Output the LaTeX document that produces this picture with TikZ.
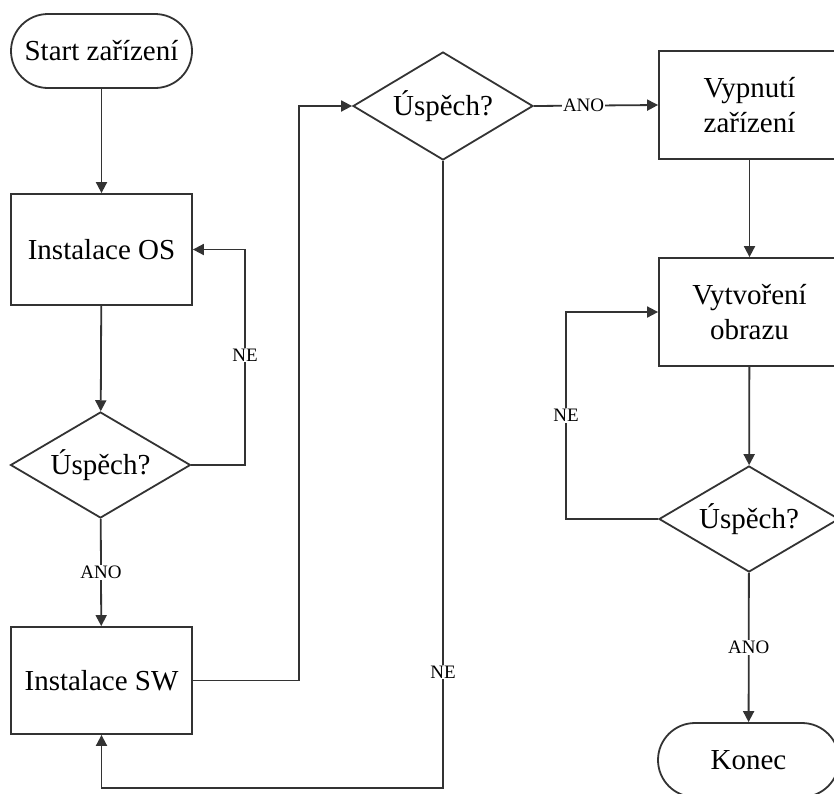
\documentclass[tikz,border=0pt]{standalone}
\usepackage{fontspec}
\setmainfont{Liberation Serif}
\usetikzlibrary{shapes.geometric,arrows.meta}
\begin{document}
\begin{tikzpicture}[x=1pt,y=-1pt,
  ln/.style={draw=black!80, line width=1.8pt},
  arr/.style={ln, -{Triangle[length=11pt,width=11pt]}},
  box/.style={ln, rectangle, minimum width=181pt, minimum height=108pt, inner sep=0pt, align=center, font=\fontsize{29}{35}\selectfont, text=black},
  term/.style={box, rounded corners=37pt, minimum height=74pt},
  dec/.style={ln, diamond, aspect=1.7, minimum width=180pt, minimum height=106pt, inner sep=0pt, font=\fontsize{29}{35}\selectfont, text=black},
  lab/.style={fill=white, inner sep=1pt, font=\fontsize{19}{19}\selectfont, text=black}]
\useasboundingbox (0,0) rectangle (834,793);
\clip (0,0) rectangle (834,793);
\node[term] (start) at (101.5,51) {Start zařízení};
\node[box, minimum height=111pt] (os) at (101.5,249.5) {Instalace OS};
\node[dec] (d1) at (100.5,465) {Úspěch?};
\node[box, minimum height=107pt] (sw) at (101.5,680.5) {Instalace SW};
\node[dec, minimum height=108pt] (d2) at (443,106) {Úspěch?};
\node[box] (vyp) at (749.5,105) {Vypnutí\\zařízení};
\node[box] (vyt) at (749.5,312) {Vytvoření\\obrazu};
\node[dec] (d3) at (749,519) {Úspěch?};
\node[term] (konec) at (748.5,760) {Konec};
\coordinate (c1) at (245,465);
\coordinate (c2) at (299,680.5);
\coordinate (c3) at (443,788);
\coordinate (c4) at (566,519);
\draw[arr] (start) -- (os);
\draw[arr] (os) -- (d1);
\draw[arr] (d1) -- node[lab] {ANO} (sw);
\draw[arr] (d1.east) -- (c1) |- node[lab, pos=0.255] {NE} (os.east);
\draw[arr] (sw.east) -- (c2) |- (d2.west);
\draw[arr] (d2.south) -- node[lab, pos=0.815] {NE} (c3) -| (sw.south);
\draw[arr] (d2.east) -- node[lab, pos=0.4] {ANO} (vyp.west);
\draw[arr] (vyp) -- (vyt);
\draw[arr] (vyt) -- (d3);
\draw[arr] (d3.west) -- (c4) |- node[lab, pos=0.25] {NE} (vyt.west);
\draw[arr] (d3) -- node[lab] {ANO} (konec);
\end{tikzpicture}
\end{document}
